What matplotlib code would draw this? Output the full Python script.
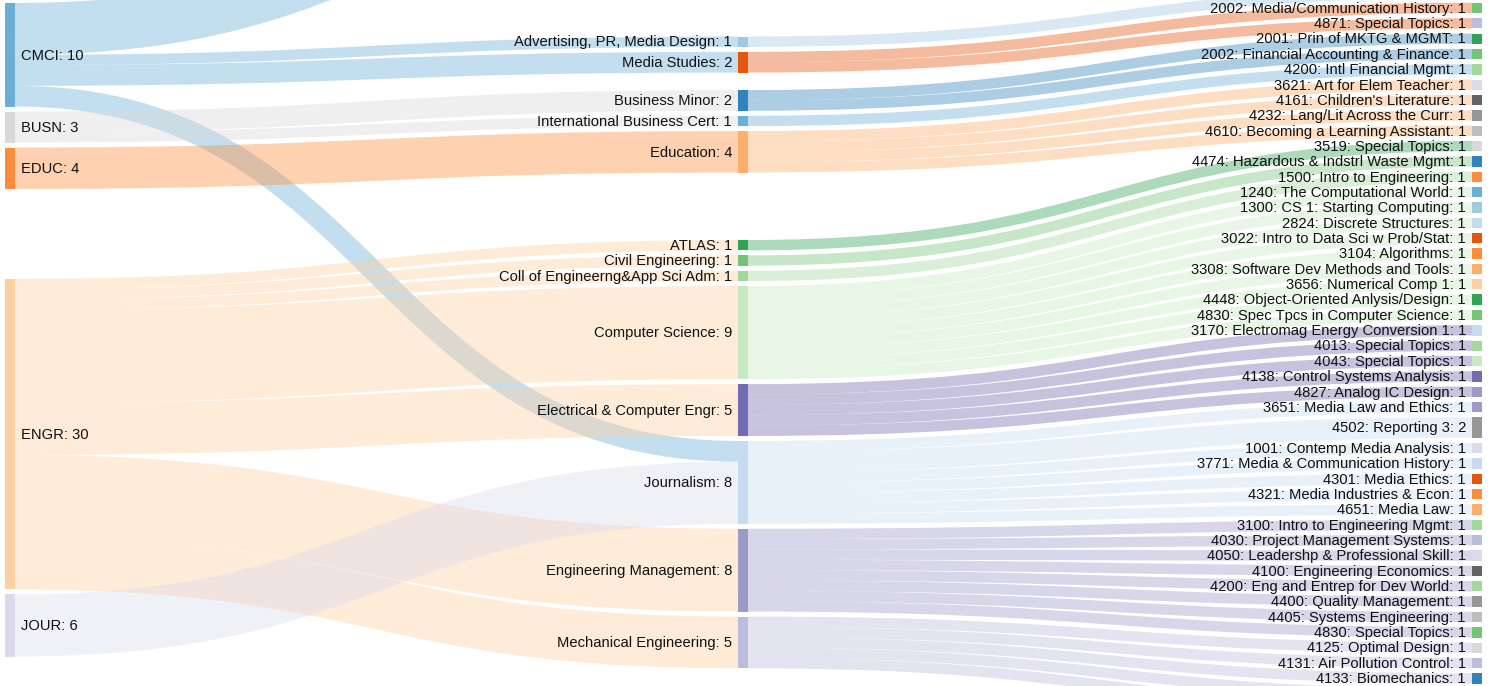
import matplotlib
matplotlib.use("Agg")
import matplotlib.pyplot as plt
from matplotlib.patches import Rectangle, PathPatch
from matplotlib.path import Path

# --- data -----------------------------------------------------------------
# names starting with "~" are nodes that sit outside the visible window
left_nodes = ["CMCI", "BUSN", "EDUC", "ENGR", "JOUR"]
left_colors = ["#6baed6", "#d9d9d9", "#fd8d3c", "#fdd0a2", "#dadaeb"]

mid_nodes = ["~cmci_other", "Advertising, PR, Media Design", "Media Studies",
             "Business Minor", "International Business Cert", "Education",
             "ATLAS", "Civil Engineering", "Coll of Engineerng&App Sci Adm",
             "Computer Science", "Electrical & Computer Engr", "Journalism",
             "Engineering Management", "Mechanical Engineering"]
mid_colors = ["#9ecae1", "#9ecae1", "#e6550d", "#3182bd", "#6baed6", "#fdae6b",
              "#31a354", "#74c476", "#a1d99b", "#c7e9c0", "#756bb1", "#c6dbef",
              "#9e9ac8", "#bcbddc"]

college_links = [
    ("CMCI", "~cmci_other", 5), ("CMCI", "Advertising, PR, Media Design", 1),
    ("CMCI", "Media Studies", 2), ("CMCI", "Journalism", 2),
    ("BUSN", "Business Minor", 2), ("BUSN", "International Business Cert", 1),
    ("EDUC", "Education", 4),
    ("ENGR", "ATLAS", 1), ("ENGR", "Civil Engineering", 1),
    ("ENGR", "Coll of Engineerng&App Sci Adm", 1), ("ENGR", "Computer Science", 9),
    ("ENGR", "Electrical & Computer Engr", 5), ("ENGR", "Engineering Management", 8),
    ("ENGR", "Mechanical Engineering", 5),
    ("JOUR", "Journalism", 6),
]

course_parent = ["Advertising, PR, Media Design", "Media Studies", "Media Studies",
                 "Business Minor", "Business Minor", "International Business Cert",
                 "Education", "Education", "Education", "Education",
                 "ATLAS", "Civil Engineering", "Coll of Engineerng&App Sci Adm"] + \
                ["Computer Science"] * 9 + ["Electrical & Computer Engr"] * 5 + \
                ["Journalism"] * 7 + ["Engineering Management"] * 8 + \
                ["Mechanical Engineering"] * 5
courses = [
    "~adv_course",
    "2002: Media/Communication History", "4871: Special Topics",
    "2001: Prin of MKTG & MGMT", "2002: Financial Accounting & Finance",
    "4200: Intl Financial Mgmt",
    "3621: Art for Elem Teacher", "4161: Children's Literature",
    "4232: Lang/Lit Across the Curr", "4610: Becoming a Learning Assistant",
    "3519: Special Topics", "4474: Hazardous & Indstrl Waste Mgmt",
    "1500: Intro to Engineering",
    "1240: The Computational World", "1300: CS 1: Starting Computing",
    "2824: Discrete Structures", "3022: Intro to Data Sci w Prob/Stat",
    "3104: Algorithms", "3308: Software Dev Methods and Tools",
    "3656: Numerical Comp 1", "4448: Object-Oriented Anlysis/Design",
    "4830: Spec Tpcs in Computer Science",
    "3170: Electromag Energy Conversion 1", "4013: Special Topics",
    "4043: Special Topics", "4138: Control Systems Analysis", "4827: Analog IC Design",
    "3651: Media Law and Ethics", "4502: Reporting 3", "1001: Contemp Media Analysis",
    "3771: Media & Communication History", "4301: Media Ethics",
    "4321: Media Industries & Econ", "4651: Media Law",
    "3100: Intro to Engineering Mgmt", "4030: Project Management Systems",
    "4050: Leadershp & Professional Skill", "4100: Engineering Economics",
    "4200: Eng and Entrep for Dev World", "4400: Quality Management",
    "4405: Systems Engineering", "4830: Special Topics",
    "4125: Optimal Design", "4131: Air Pollution Control", "4133: Biomechanics",
    "~me_course_a", "~me_course_b",
]
course_counts = [1] * len(courses)
course_counts[courses.index("4502: Reporting 3")] = 2
course_colors = [
    "#9ecae1",
    "#74c476", "#bcbddc", "#31a354", "#74c476", "#a1d99b",
    "#dadaeb", "#636363", "#969696", "#bdbdbd",
    "#d9d9d9", "#3182bd", "#fd8d3c",
    "#6baed6", "#9ecae1", "#c6dbef", "#e6550d", "#fd8d3c", "#fdae6b", "#fdd0a2",
    "#31a354", "#74c476",
    "#c6dbef", "#a1d99b", "#c7e9c0", "#756bb1", "#9e9ac8",
    "#9e9ac8", "#969696", "#dadaeb", "#c6dbef", "#e6550d", "#fd8d3c", "#fdae6b",
    "#a1d99b", "#bcbddc", "#dadaeb", "#636363", "#a1d99b", "#969696", "#bdbdbd",
    "#74c476",
    "#d9d9d9", "#bcbddc", "#3182bd", "#d9d9d9", "#d9d9d9",
]

# --- layout settings -------------------------------------------------------
DPI = 100
K = 10.35          # px per student
PAD = 5.0          # px between nodes
NODE_W = 10
col_x = [5, 738, 1472]
col_start = [3, -148, -12.55]
extra_gap = {"ENGR": 85, "Advertising, PR, Media Design": 127.75,
             "Business Minor": 12.5, "ATLAS": 62.5}
LINK_ALPHA = 0.4
FONT = dict(fontsize=10.65, family="Liberation Sans", color="#111111")

links = college_links + [(p, c, v) for p, c, v in zip(course_parent, courses, course_counts)]
columns = [left_nodes, mid_nodes, courses]
colors = {}
for names, cols in zip(columns, [left_colors, mid_colors, course_colors]):
    colors.update(dict(zip(names, cols)))

value_in, value_out = {}, {}
for s, t, v in links:
    value_out[s] = value_out.get(s, 0) + v
    value_in[t] = value_in.get(t, 0) + v

node_col, node_top, node_val = {}, {}, {}
for ci, names in enumerate(columns):
    y = col_start[ci]
    for n in names:
        y += extra_gap.get(n, 0)
        node_col[n] = ci
        node_top[n] = y
        node_val[n] = max(value_in.get(n, 0), value_out.get(n, 0))
        y += node_val[n] * K + PAD

fig = plt.figure(figsize=(14.9, 6.86), dpi=DPI)
ax = fig.add_axes([0, 0, 1, 1])
ax.set_xlim(0, 1490)
ax.set_ylim(686, 0)
ax.axis("off")

# link offsets inside each node, ordered like d3-sankey
src_off, tgt_off = {}, {}
src_fill, tgt_fill = {}, {}
for s, t, v in sorted(links, key=lambda l: (node_top[l[0]], node_top[l[1]])):
    src_off[(s, t)] = src_fill.get(s, 0)
    src_fill[s] = src_off[(s, t)] + v * K
for s, t, v in sorted(links, key=lambda l: (node_top[l[1]], node_top[l[0]])):
    tgt_off[(s, t)] = tgt_fill.get(t, 0)
    tgt_fill[t] = tgt_off[(s, t)] + v * K

for s, t, v in links:
    w = v * K
    x0 = col_x[node_col[s]] + NODE_W
    x1 = col_x[node_col[t]]
    y0 = node_top[s] + src_off[(s, t)] + w / 2
    y1 = node_top[t] + tgt_off[(s, t)] + w / 2
    xm = (x0 + x1) / 2
    path = Path([(x0, y0), (xm, y0), (xm, y1), (x1, y1)],
                [Path.MOVETO, Path.CURVE4, Path.CURVE4, Path.CURVE4])
    ax.add_patch(PathPatch(path, facecolor="none", edgecolor=colors[s],
                           alpha=LINK_ALPHA, lw=w * 72 / DPI, capstyle="butt"))

for n, ci in node_col.items():
    h = node_val[n] * K
    ax.add_patch(Rectangle((col_x[ci], node_top[n]), NODE_W, h,
                           facecolor=colors[n], edgecolor="none"))
    if n.startswith("~"):
        continue
    label = f"{n}: {node_val[n]}"
    yc = node_top[n] + h / 2 + 0.8
    if ci == 0:
        ax.text(col_x[ci] + NODE_W + 6, yc, label, ha="left", va="center", **FONT)
    else:
        ax.text(col_x[ci] - 6, yc, label, ha="right", va="center", **FONT)

fig.savefig("out.png", dpi=DPI)
